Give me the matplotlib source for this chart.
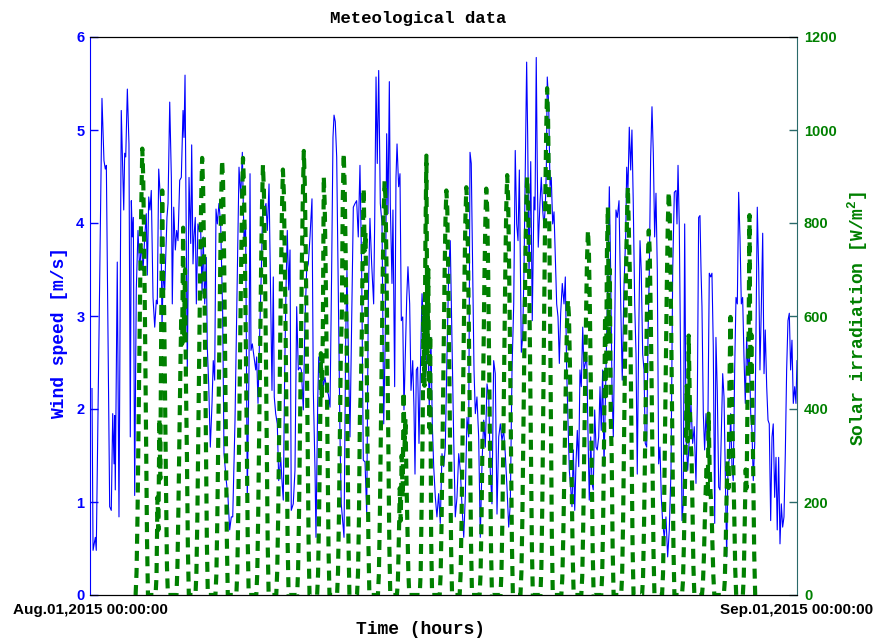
import numpy as np
import matplotlib

matplotlib.use("Agg")
import matplotlib.pyplot as plt

plt.rcParams["font.family"] = ["Liberation Sans", "DejaVu Sans"]
plt.rcParams["font.weight"] = "bold"
plt.rcParams["mathtext.default"] = "regular"

# wind speed (hours since Aug.01 00:00, m/s)
wind_hours = [
    2.1, 3.2, 5.6, 6.6, 12.6, 14.7, 16.1, 17.2, 20.7, 22.4,
    23.9, 25.3, 26.0, 26.6, 28.7, 30.5, 32.9, 34.0, 35.5, 36.5,
    37.6, 39.3, 41.0, 42.4, 43.5, 44.5, 45.6, 47.0, 48.7, 50.5,
    52.3, 54.0, 55.8, 57.6, 59.2, 60.3, 61.8, 63.1, 64.5, 66.3,
    68.1, 69.8, 70.8, 72.3, 74.4, 75.8, 77.1, 78.6, 81.0, 82.1,
    83.9, 85.6, 86.6, 88.1, 89.8, 91.2, 92.6, 94.4, 96.1, 97.9,
    98.9, 100.0, 101.0, 102.4, 104.2, 106.0, 107.0, 108.4, 109.4, 110.8,
    111.9, 113.6, 115.0, 116.5, 117.9, 119.2, 120.7, 122.4, 123.4, 124.9,
    126.6, 128.4, 129.7, 131.2, 132.6, 134.0, 135.7, 137.5, 139.6, 141.0,
    143.4, 145.2, 147.0, 148.7,
    150.2, 152.6, 155.0, 156.8, 158.6, 160.3, 162.1, 163.8, 165.5, 167.3,
    168.4, 169.4, 170.8, 172.6, 174.4, 175.4, 176.8, 178.2, 180.3, 181.7,
    183.4, 185.2, 186.6, 188.4, 190.2, 191.5, 192.9, 193.9, 195.4, 197.1,
    198.6, 200.7, 202.0, 203.4, 204.9, 206.3, 207.6, 209.1, 210.5, 211.8,
    213.9, 215.7, 217.5, 219.2, 221.0, 222.4, 224.5, 226.2, 228.0, 229.7,
    231.5, 233.6, 235.0, 236.8, 237.8, 239.6, 240.7, 242.0, 243.8, 245.5,
    247.3, 249.1, 250.8, 252.6, 254.3, 255.7, 256.8, 258.1, 259.6, 261.0,
    263.1, 264.4, 265.9, 267.3, 269.1, 270.4, 271.8, 273.6, 275.4, 277.1,
    278.9, 280.6, 282.3, 284.1, 285.9, 287.6, 289.4, 291.2, 292.9, 294.6,
    296.4,
    298.5, 299.6, 301.0, 302.3, 303.8, 305.5, 307.3, 309.1, 310.7, 312.2,
    313.6, 315.0, 316.0, 317.8, 318.8, 320.6, 322.0, 323.1, 324.8, 326.2,
    327.6, 329.1, 330.4, 331.8, 333.3, 334.6, 336.4, 337.8, 339.6, 340.9,
    342.0, 343.4, 344.8, 346.2, 347.6, 349.4, 350.7, 352.2, 353.9, 355.4,
    357.0, 358.8, 360.2, 361.7, 363.4, 365.1, 366.9, 368.6, 370.4, 372.2,
    373.9, 375.7, 377.5, 379.1, 380.9, 382.7, 384.4, 386.2, 388.0, 389.7,
    391.5, 393.3, 394.9, 396.7, 398.5, 399.9, 401.2, 402.7, 404.1, 405.5,
    407.2, 409.0, 410.7, 412.5, 414.3, 416.0, 417.8, 419.6, 421.2, 423.0,
    424.8, 426.5, 428.3, 430.1, 431.8, 433.5, 435.3, 437.0, 438.8, 440.6,
    442.3, 444.1, 445.9,
    447.5, 449.0, 450.4, 451.8, 453.9, 455.3, 456.7, 458.1, 459.5, 460.6,
    462.0, 463.8, 465.4, 467.2, 468.3, 469.6, 470.7, 471.7, 473.5, 474.9,
    476.4, 477.7, 479.1, 480.2, 481.2, 482.7, 484.1, 485.4, 486.9, 488.3,
    489.6, 491.1, 492.5, 493.9, 495.3, 497.0, 498.8, 500.2, 501.6, 503.0,
    504.4, 505.8, 507.2, 508.6, 510.1, 511.4, 512.8, 514.3, 515.6, 517.0,
    518.5, 519.8, 521.2, 522.7, 524.0, 525.4, 526.9, 528.3, 529.6, 531.1,
    532.5, 533.8, 535.3, 536.7, 538.0, 539.5, 540.9, 542.3, 543.7, 545.1,
    546.5, 547.9, 549.3, 550.7, 552.1, 553.5, 554.9, 556.7, 558.5, 560.1,
    561.9, 563.7, 564.8, 566.1, 567.5, 569.0, 570.3, 571.7, 573.2, 574.6,
    575.9, 577.4, 578.8, 580.1, 581.6, 583.0, 584.3, 585.8, 587.2, 588.6,
    590.0, 591.4, 592.8, 594.2,
    595.6, 597.0, 598.4, 599.8, 601.2, 602.7, 604.3, 606.1, 607.9, 609.6,
    611.4, 613.2, 614.9, 616.7, 617.7, 618.8, 620.1, 621.6, 623.0, 624.3,
    625.8, 627.2, 629.0, 630.7, 632.4, 634.2, 635.9, 637.7, 639.1, 640.5,
    641.9, 643.0, 644.0, 645.4, 646.8, 648.2, 650.0, 651.7, 653.2, 654.5,
    655.9, 657.4, 658.7, 660.1, 661.6, 663.0, 664.3, 665.8, 667.2, 668.5,
    670.0, 671.4, 672.7, 674.2, 675.6, 676.9, 678.4, 679.8, 681.2, 682.6,
    684.0, 685.4, 686.8, 688.2, 689.6, 691.0, 692.4, 693.8, 695.3, 696.6,
    698.0, 699.5, 700.8, 702.2, 703.7, 705.0, 706.4, 707.9, 709.3, 710.6,
    712.1, 713.5, 714.8, 716.3, 717.7, 719.0, 720.5, 721.9, 723.2, 724.7,
    726.1, 727.5, 728.9, 730.3, 731.7, 733.1, 734.5, 735.9, 737.3, 738.7,
    740.1, 741.6, 742.9, 744.0,
]
wind_speed = [
    2.22, 0.48, 0.62, 0.48, 5.34, 4.67, 4.58, 4.62, 0.95, 0.91,
    1.95, 1.41, 1.93, 1.13, 3.58, 0.84, 5.21, 4.75, 4.14, 4.75,
    4.71, 5.44, 4.85, 1.70, 4.24, 3.85, 4.06, 1.07, 3.28, 3.92,
    3.49, 3.78, 3.49, 3.85, 4.10, 3.44, 4.28, 4.14, 4.35, 3.20,
    2.88, 3.17, 3.13, 4.58, 4.21, 2.88, 3.49, 3.28, 4.06, 4.21,
    5.30, 4.49, 3.13, 4.17, 3.71, 3.92, 3.81, 4.46, 4.49, 5.21,
    4.92, 5.59, 4.21, 2.38, 4.49, 3.78, 4.84, 3.56, 3.85, 4.06,
    3.13, 3.99, 3.92, 3.92, 3.24, 3.85, 3.13, 3.63, 2.67, 2.27,
    1.59, 2.06, 2.52, 2.31, 4.15, 3.99, 4.21, 3.99, 3.03, 1.52,
    1.23, 1.05, 0.70, 0.84,
    0.84, 1.88, 3.42, 4.60, 4.28, 4.76, 3.78, 3.99, 1.02, 2.42,
    4.53, 2.63, 2.70, 2.56, 2.42, 2.56, 2.06, 2.67, 3.49, 4.14,
    4.14, 4.21, 3.92, 4.42, 3.13, 2.20, 3.42, 2.13, 1.95, 1.84,
    1.23, 1.48, 1.23, 1.02, 2.42, 3.31, 3.92, 3.28, 3.71, 0.91,
    0.98, 1.34, 3.10, 2.42, 2.45, 2.42, 1.99, 2.95, 3.49, 3.56,
    3.85, 4.26, 2.20, 1.34, 0.62, 2.06, 2.56, 2.42, 2.56, 2.24,
    2.34, 2.20, 2.16, 2.02, 3.49, 4.92, 5.16, 5.09, 4.71, 3.49,
    1.70, 0.98, 0.80, 0.62, 2.77, 3.49, 2.67, 1.70, 2.95, 4.17,
    4.21, 4.24, 3.85, 4.62, 3.49, 1.45, 1.43, 0.87, 3.20, 4.05,
    3.56,
    3.13, 4.03, 5.57, 4.64, 5.64, 4.21, 3.99, 1.84, 2.77, 4.96,
    4.10, 5.52, 4.21, 3.35, 4.14, 2.24, 4.49, 4.85, 4.39, 4.53,
    2.95, 2.99, 1.99, 2.56, 3.20, 3.53, 3.13, 2.20, 2.52, 2.02,
    1.30, 2.42, 2.45, 1.63, 2.38, 3.24, 2.95, 2.31, 2.42, 2.85,
    2.02, 2.77, 1.84, 1.38, 1.05, 0.84, 1.09, 0.77, 1.52, 1.38,
    1.59, 2.59, 3.49, 3.81, 2.77, 1.70, 0.84, 1.05, 1.52, 1.34,
    0.95, 0.62, 1.05, 1.91, 1.70, 4.76, 4.64, 3.49, 2.42, 1.95,
    2.13, 1.70, 0.62, 1.41, 1.88, 1.59, 2.27, 2.13, 1.34, 0.98,
    2.52, 2.38, 0.87, 1.70, 1.84, 1.66, 1.77, 1.52, 1.16, 0.73,
    0.98, 2.42, 3.13,
    4.78, 3.99, 3.81, 4.57, 2.61, 2.77, 3.49, 4.57, 5.73, 4.92,
    3.42, 4.66, 2.95, 4.28, 4.14, 5.78, 4.57, 3.74, 4.21, 4.49,
    4.14, 3.96, 4.17, 4.57, 5.57, 5.28, 4.39, 4.49, 3.99, 4.12,
    3.67, 3.13, 2.99, 2.49, 3.03, 3.35, 3.13, 3.42, 2.42, 1.88,
    1.34, 1.16, 0.95, 1.56, 0.91, 1.41, 1.77, 1.38, 2.42, 2.24,
    2.88, 2.42, 2.49, 2.56, 1.77, 1.02, 1.70, 1.20, 1.13, 1.99,
    1.59, 1.56, 1.70, 2.24, 1.77, 2.42, 1.38, 2.06, 2.77, 3.49,
    4.39, 3.49, 2.24, 1.70, 2.77, 4.14, 4.06, 4.24, 3.13, 2.31,
    3.31, 3.85, 4.60, 4.35, 5.03, 4.57, 5.00, 4.21, 3.13, 2.59,
    1.30, 2.77, 3.81, 3.49, 2.59, 2.42, 1.63, 1.59, 2.77, 3.49,
    4.71, 5.25, 4.75, 3.85,
    4.32, 3.49, 1.41, 1.59, 1.05, 0.77, 0.62, 0.84, 0.41, 0.70,
    1.34, 3.49, 4.33, 4.35, 3.99, 4.62, 3.99, 2.42, 0.80, 0.98,
    3.99, 1.70, 1.34, 1.70, 2.06, 1.63, 1.81, 1.20, 2.06, 4.06,
    4.08, 3.49, 3.10, 1.95, 1.56, 1.95, 1.59, 3.46, 3.42, 3.46,
    2.67, 0.77, 2.77, 2.20, 1.16, 1.13, 1.70, 2.38, 2.13, 1.34,
    0.41, 1.41, 1.45, 1.95, 1.38, 1.23, 2.42, 3.20, 3.13, 4.33,
    3.85, 3.13, 3.20, 2.56, 2.06, 2.77, 2.42, 2.59, 1.95, 1.77,
    1.23, 1.63, 2.77, 4.17, 3.49, 2.42, 3.06, 3.89, 2.38, 2.85,
    2.24, 1.88, 1.84, 0.80, 1.70, 1.84, 1.05, 1.48, 0.70, 1.48,
    0.55, 0.98, 0.73, 0.84, 1.52, 2.42, 2.95, 3.03, 2.42, 2.74,
    2.06, 2.24, 2.06, 2.52,
]

# solar irradiation: first hour of each daylight period and hourly values [W/m^2]
solar_start = [48, 69, 91, 111, 132, 154, 175, 196, 218, 239, 260, 281, 303, 323, 347,
               368, 389, 410, 432, 453, 474, 496, 517, 538, 559, 581, 602, 623, 644, 667, 687]
solar_days = [
    [0, 50, 170, 350, 530, 700, 840, 960, 900, 750, 560, 340, 120, 0],
    [0, 40, 210, 140, 380, 250, 600, 870, 640, 620, 420, 230, 60, 0],
    [0, 60, 180, 330, 470, 600, 540, 790, 560, 700, 450, 300, 100, 0],
    [0, 50, 170, 350, 540, 710, 850, 940, 880, 740, 550, 330, 110, 0],
    [0, 45, 165, 345, 530, 700, 850, 935, 890, 750, 560, 340, 120, 0],
    [0, 50, 175, 355, 540, 705, 845, 940, 885, 740, 545, 330, 115, 0],
    [0, 45, 170, 345, 525, 695, 835, 925, 870, 730, 540, 325, 110, 0],
    [0, 50, 165, 340, 520, 690, 830, 915, 865, 725, 535, 320, 110, 0],
    [0, 55, 180, 360, 545, 720, 860, 955, 890, 745, 555, 335, 120, 0],
    [0, 45, 165, 320, 520, 420, 560, 900, 840, 700, 520, 310, 100, 0],
    [0, 50, 175, 355, 530, 600, 850, 950, 880, 740, 550, 330, 115, 0],
    [0, 45, 160, 380, 440, 560, 760, 875, 740, 780, 540, 330, 110, 0],
    [0, 45, 165, 340, 515, 680, 820, 890, 850, 710, 520, 315, 105, 0],
    [0, 30, 120, 230, 160, 300, 210, 437, 320, 380, 250, 150, 50, 0],
    [0, 50, 190, 340, 620, 450, 770, 945, 520, 700, 360, 560, 120, 0],
    [0, 45, 160, 330, 505, 665, 800, 870, 830, 690, 510, 305, 100, 0],
    [0, 45, 160, 335, 510, 670, 805, 877, 835, 695, 515, 310, 105, 0],
    [0, 45, 160, 330, 505, 670, 800, 874, 830, 695, 510, 305, 100, 0],
    [0, 50, 165, 345, 525, 690, 830, 903, 855, 715, 530, 320, 110, 0],
    [0, 50, 165, 340, 520, 690, 825, 899, 850, 710, 525, 315, 105, 0],
    [0, 60, 200, 410, 630, 830, 990, 1090, 1030, 860, 640, 390, 130, 0],
    [0, 35, 120, 245, 375, 490, 585, 634, 600, 500, 370, 225, 80, 0],
    [0, 40, 145, 300, 460, 600, 720, 784, 740, 620, 460, 280, 95, 0],
    [0, 45, 160, 340, 600, 420, 740, 834, 560, 700, 380, 300, 100, 0],
    [0, 45, 160, 335, 510, 680, 800, 877, 790, 700, 510, 305, 100, 0],
    [0, 40, 145, 300, 460, 600, 720, 784, 740, 615, 455, 275, 90, 0],
    [0, 45, 160, 330, 505, 665, 795, 867, 825, 690, 505, 305, 100, 0],
    [0, 30, 110, 220, 340, 450, 330, 558, 440, 330, 300, 190, 60, 0],
    [0, 25, 80, 160, 230, 280, 210, 390, 280, 220, 190, 110, 40, 0],
    [0, 30, 110, 225, 290, 230, 470, 598, 480, 380, 280, 170, 55, 0],
    [0, 40, 150, 270, 230, 440, 540, 817, 470, 560, 420, 260, 85, 0],
]

x_ticklabels = ["Aug.01,2015 00:00:00", "Sep.01,2015 00:00:00"]
total_hours = 744

assert len(wind_hours) == len(wind_speed)

solar_t = np.concatenate([s + np.arange(len(d)) for s, d in zip(solar_start, solar_days)])
solar_v = np.concatenate([np.array(d, dtype=float) for d in solar_days])

blue = "#0000ff"
green = "#008000"
edge = "#2a6a6a"
mono = ["Liberation Mono", "DejaVu Sans Mono"]

fig = plt.figure(figsize=(8.86, 6.41), dpi=100)
ax1 = fig.add_axes([90 / 886, 46 / 641, 707 / 886, 558 / 641])
ax2 = ax1.twinx()

ax1.plot(wind_hours, wind_speed, color=blue, lw=0.8)
ax2.plot(solar_t, solar_v, color=green, lw=3.0, ls=(0, (2.4, 1.7)))

ax1.set_xlim(0, total_hours)
ax1.set_ylim(0, 6)
ax2.set_ylim(0, 1200)

ax1.set_xticks([0, total_hours])
ax1.set_xticklabels(x_ticklabels)
ax1.set_yticks(range(0, 7))
ax2.set_yticks(range(0, 1201, 200))

ax1.tick_params(axis="x", length=0, pad=6, labelsize=11, colors="black")
ax1.tick_params(axis="y", direction="in", length=6, width=1, pad=4, labelsize=10.5, colors=blue)
ax2.tick_params(axis="y", direction="in", length=6, width=1, pad=5, labelsize=10.5,
                color=edge, labelcolor=green)

for sp in ["top", "bottom"]:
    ax1.spines[sp].set_color("black")
    ax2.spines[sp].set_color("black")
ax1.spines["left"].set_color(blue)
ax1.spines["right"].set_visible(False)
ax2.spines["left"].set_visible(False)
ax2.spines["right"].set_color(edge)

fig.text(418 / 886, 1 - 18 / 641, "Meteological data", family=mono, fontsize=12.5,
         weight="bold", ha="center", va="center")
fig.text(421 / 886, 1 - 630 / 641, "Time (hours)", family=mono, fontsize=13,
         weight="bold", ha="center", va="center")
fig.text(60 / 886, 1 - 333 / 641, "Wind speed [m/s]", family=mono, fontsize=13,
         weight="bold", color=blue, rotation=90, ha="center", va="center")
fig.text(858 / 886, 1 - 318 / 641, "Solar irradiation [W/m$^{2}$]", family=mono,
         fontsize=13, weight="bold", color=green, rotation=90, ha="center", va="center")

fig.savefig("out.png", dpi=100)
